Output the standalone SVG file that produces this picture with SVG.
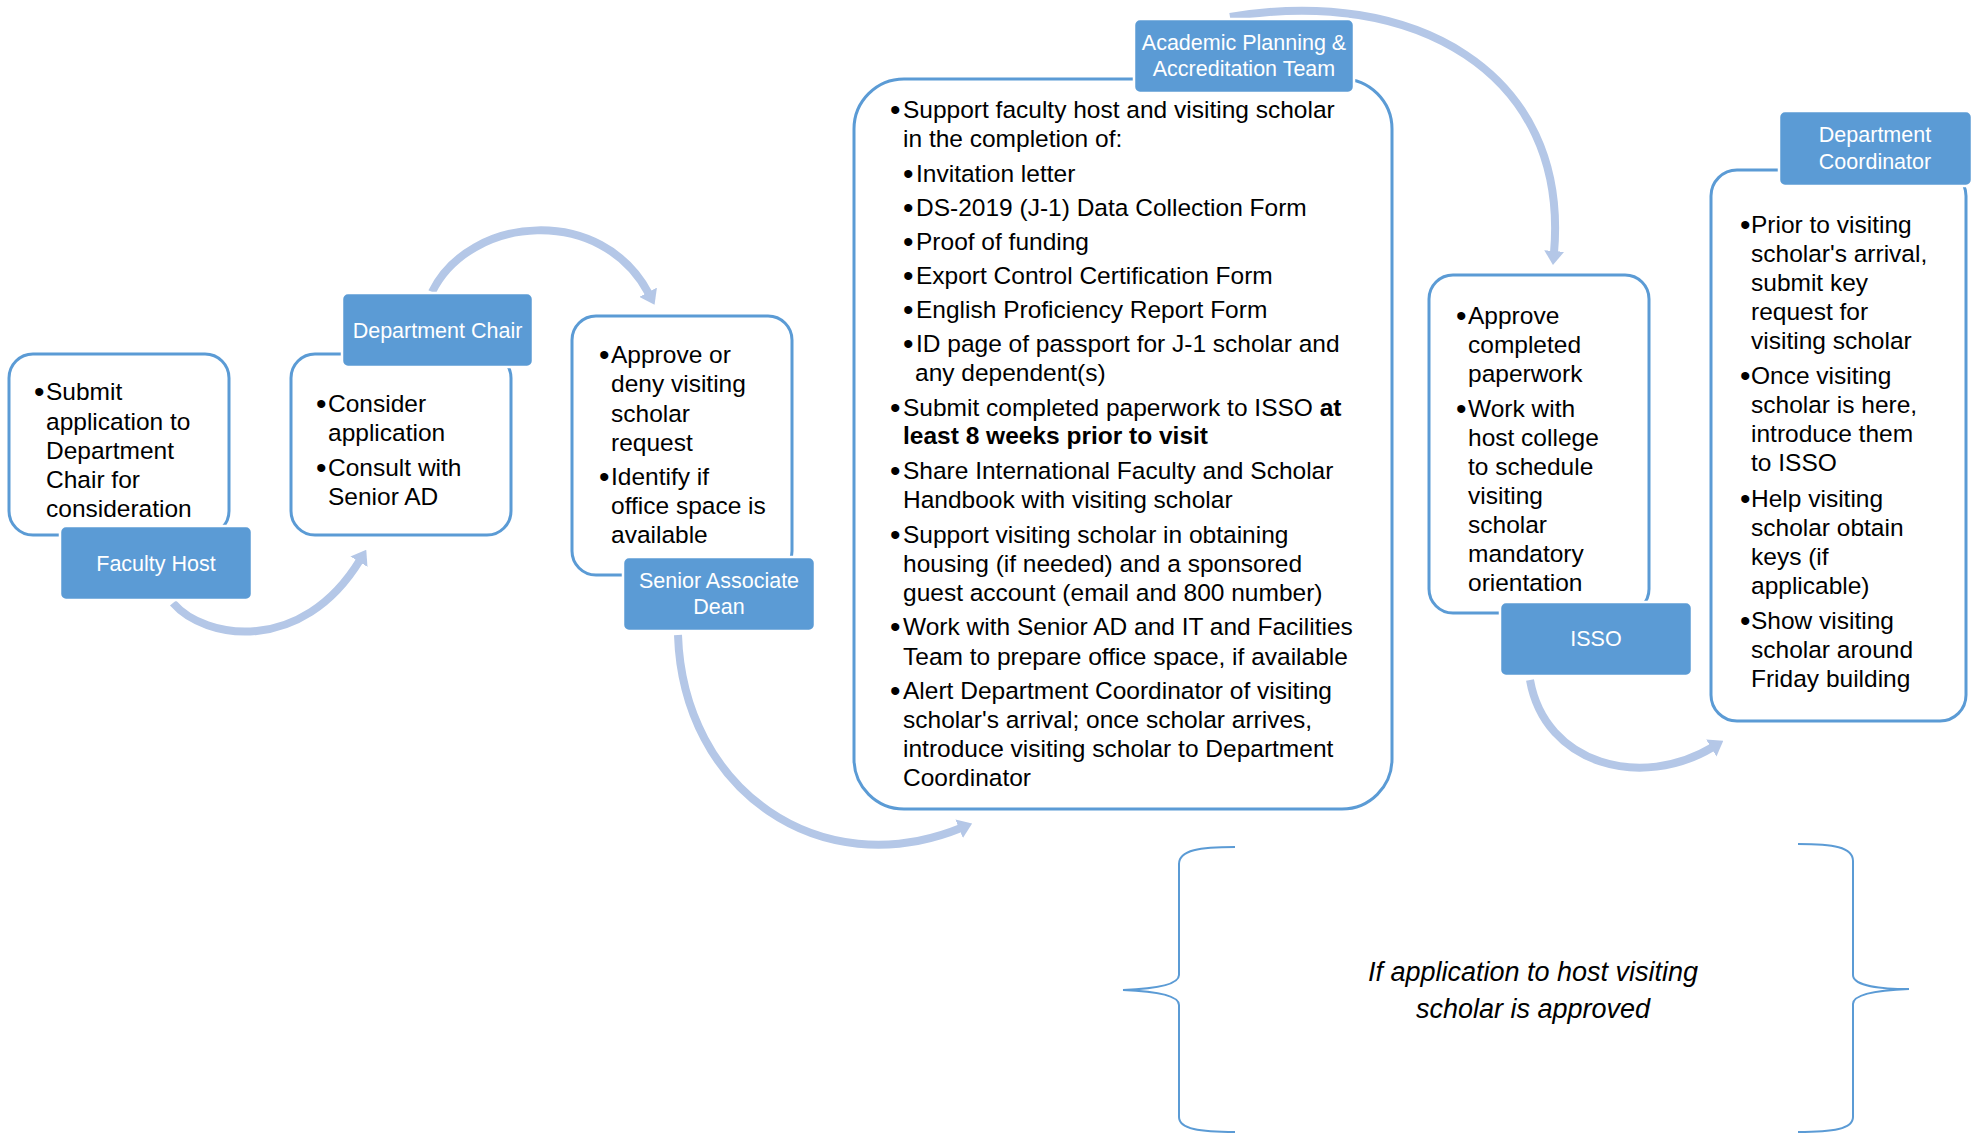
<svg xmlns="http://www.w3.org/2000/svg" width="1975" height="1134" viewBox="0 0 1975 1134">
<style>
.box{fill:#fff;stroke:#5B9BD5;stroke-width:3}
.lab{fill:#5B9BD5;stroke:#fff;stroke-width:2.5}
.lt{font-family:"Liberation Sans",Arial,sans-serif;font-size:21.5px;fill:#fff;text-anchor:middle}
.bt{font-family:"Liberation Sans",Arial,sans-serif;font-size:24.5px;fill:#000}
.bu{font-size:30px}
.arr{fill:none;stroke:#B4C7E7;stroke-width:8;marker-end:url(#ah)}
.brace{fill:none;stroke:#5B9BD5;stroke-width:2}
.it{font-family:"Liberation Sans",Arial,sans-serif;font-size:27px;font-style:italic;fill:#000;text-anchor:middle}
</style>
<defs>
<marker id="ah" markerUnits="userSpaceOnUse" markerWidth="14" markerHeight="20" viewBox="0 0 14 20" refX="2" refY="10" orient="auto"><path d="M0,0 L14,10 L0,20 z" fill="#B4C7E7"/></marker>
</defs>
<rect width="1975" height="1134" fill="#fff"/>
<g id="connectors">
<path class="arr" d="M173,603 C205,640 302,655 360,560"/>
<path class="arr" d="M432,292 C470,215 602,204 649,294"/>
<path class="arr" d="M678,635 C683,790 820,885 961,828"/>
<path class="arr" d="M1230,17 C1410,-14 1570,70 1554,253"/>
<path class="arr" d="M1530,680 C1545,765 1642,790 1713,747"/>
</g>
<g id="faculty-host">
<rect class="box" x="9" y="354" width="220" height="181" rx="24"/>
<rect class="lab" x="60" y="526" width="192" height="74" rx="6"/>
<text class="lt" x="156" y="571">Faculty Host</text>
<g class="bt">
<text class="bu" x="34" y="402">•</text><text x="46" y="400">Submit</text>
<text x="46" y="430">application to</text>
<text x="46" y="459">Department</text>
<text x="46" y="488">Chair for</text>
<text x="46" y="517">consideration</text>
</g>
</g>
<g id="department-chair">
<rect class="box" x="291" y="354" width="220" height="181" rx="24"/>
<rect class="lab" x="342" y="293" width="191" height="74" rx="6"/>
<text class="lt" x="437.5" y="338">Department Chair</text>
<g class="bt">
<text class="bu" x="316" y="414">•</text><text x="328" y="412">Consider</text>
<text x="328" y="441">application</text>
<text class="bu" x="316" y="478">•</text><text x="328" y="476">Consult with</text>
<text x="328" y="505">Senior AD</text>
</g>
</g>
<g id="senior-associate-dean">
<rect class="box" x="572" y="316" width="220" height="259" rx="24"/>
<rect class="lab" x="623" y="557" width="192" height="74" rx="6"/>
<text class="lt" x="719" y="588">Senior Associate</text>
<text class="lt" x="719" y="614">Dean</text>
<g class="bt">
<text class="bu" x="599" y="365">•</text><text x="611" y="363">Approve or</text>
<text x="611" y="392">deny visiting</text>
<text x="611" y="422">scholar</text>
<text x="611" y="451">request</text>
<text class="bu" x="599" y="487">•</text><text x="611" y="485">Identify if</text>
<text x="611" y="514">office space is</text>
<text x="611" y="543">available</text>
</g>
</g>
<g id="academic-planning">
<rect class="box" x="854" y="79" width="538" height="730" rx="50"/>
<rect class="lab" x="1134" y="19" width="220" height="74" rx="6"/>
<text class="lt" x="1244" y="50">Academic Planning &amp;</text>
<text class="lt" x="1244" y="76">Accreditation Team</text>
<g class="bt">
<text class="bu" x="890" y="120">•</text><text x="903" y="118">Support faculty host and visiting scholar</text>
<text x="903" y="147">in the completion of:</text>
<text class="bu" x="903" y="184">•</text><text x="916" y="182">Invitation letter</text>
<text class="bu" x="903" y="218">•</text><text x="916" y="216">DS-2019 (J-1) Data Collection Form</text>
<text class="bu" x="903" y="252">•</text><text x="916" y="250">Proof of funding</text>
<text class="bu" x="903" y="286">•</text><text x="916" y="284">Export Control Certification Form</text>
<text class="bu" x="903" y="320">•</text><text x="916" y="318">English Proficiency Report Form</text>
<text class="bu" x="903" y="354">•</text><text x="916" y="352">ID page of passport for J-1 scholar and</text>
<text x="915" y="381">any dependent(s)</text>
<text class="bu" x="890" y="418">•</text><text x="903" y="416">Submit completed paperwork to ISSO <tspan font-weight="bold">at</tspan></text>
<text x="903" y="444" font-weight="bold">least 8 weeks prior to visit</text>
<text class="bu" x="890" y="481">•</text><text x="903" y="479">Share International Faculty and Scholar</text>
<text x="903" y="508">Handbook with visiting scholar</text>
<text class="bu" x="890" y="545">•</text><text x="903" y="543">Support visiting scholar in obtaining</text>
<text x="903" y="572">housing (if needed) and a sponsored</text>
<text x="903" y="601">guest account (email and 800 number)</text>
<text class="bu" x="890" y="637">•</text><text x="903" y="635">Work with Senior AD and IT and Facilities</text>
<text x="903" y="665">Team to prepare office space, if available</text>
<text class="bu" x="890" y="701">•</text><text x="903" y="699">Alert Department Coordinator of visiting</text>
<text x="903" y="728">scholar's arrival; once scholar arrives,</text>
<text x="903" y="757">introduce visiting scholar to Department</text>
<text x="903" y="786">Coordinator</text>
</g>
</g>
<g id="isso">
<rect class="box" x="1429" y="275" width="220" height="338" rx="24"/>
<rect class="lab" x="1500" y="602" width="192" height="74" rx="6"/>
<text class="lt" x="1596" y="646">ISSO</text>
<g class="bt">
<text class="bu" x="1456" y="326">•</text><text x="1468" y="324">Approve</text>
<text x="1468" y="353">completed</text>
<text x="1468" y="382">paperwork</text>
<text class="bu" x="1456" y="419">•</text><text x="1468" y="417">Work with</text>
<text x="1468" y="446">host college</text>
<text x="1468" y="475">to schedule</text>
<text x="1468" y="504">visiting</text>
<text x="1468" y="533">scholar</text>
<text x="1468" y="562">mandatory</text>
<text x="1468" y="591">orientation</text>
</g>
</g>
<g id="department-coordinator">
<rect class="box" x="1711" y="170" width="255" height="551" rx="26"/>
<rect class="lab" x="1779" y="111" width="193" height="75" rx="6"/>
<text class="lt" x="1875" y="142">Department</text>
<text class="lt" x="1875" y="169">Coordinator</text>
<g class="bt">
<text class="bu" x="1740" y="235">•</text><text x="1751" y="233">Prior to visiting</text>
<text x="1751" y="262">scholar's arrival,</text>
<text x="1751" y="291">submit key</text>
<text x="1751" y="320">request for</text>
<text x="1751" y="349">visiting scholar</text>
<text class="bu" x="1740" y="386">•</text><text x="1751" y="384">Once visiting</text>
<text x="1751" y="413">scholar is here,</text>
<text x="1751" y="442">introduce them</text>
<text x="1751" y="471">to ISSO</text>
<text class="bu" x="1740" y="509">•</text><text x="1751" y="507">Help visiting</text>
<text x="1751" y="536">scholar obtain</text>
<text x="1751" y="565">keys (if</text>
<text x="1751" y="594">applicable)</text>
<text class="bu" x="1740" y="631">•</text><text x="1751" y="629">Show visiting</text>
<text x="1751" y="658">scholar around</text>
<text x="1751" y="687">Friday building</text>
</g>
</g>
<g id="approval-note">
<path class="brace" d="M1235,847 C1200,847 1179,850 1179,864 L1179,975 C1179,986 1150,989 1123,990 C1150,991 1179,994 1179,1005 L1179,1117 C1179,1129 1200,1132 1235,1132"/>
<path class="brace" d="M1798,844 C1833,844 1853,847 1853,861 L1853,975 C1853,986 1882,989 1909,989 C1882,990 1853,993 1853,1004 L1853,1117 C1853,1129 1833,1132 1798,1132"/>
<text class="it" x="1533" y="981">If application to host visiting</text>
<text class="it" x="1533" y="1018">scholar is approved</text>
</g>
</svg>
